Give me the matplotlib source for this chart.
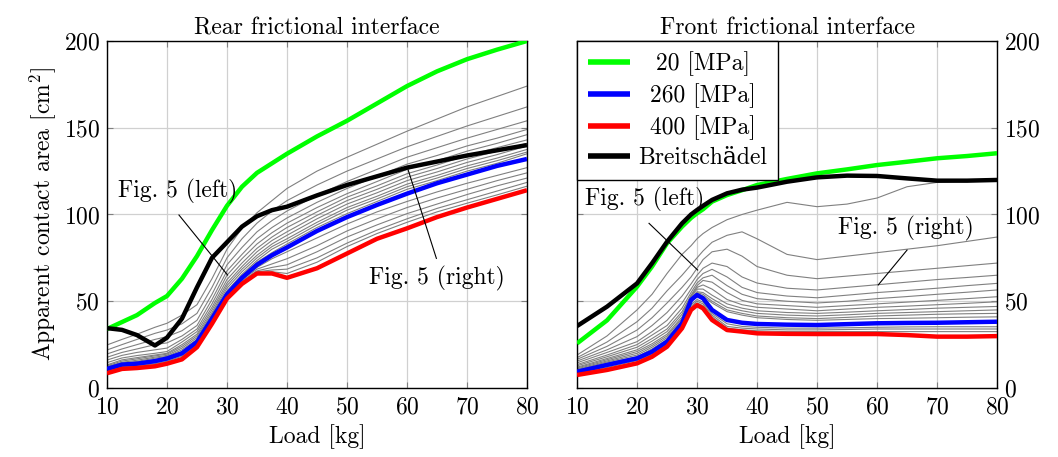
import matplotlib
matplotlib.use("Agg")
import matplotlib.pyplot as plt

plt.rcParams['font.family'] = ['cmr10', 'DejaVu Serif']
plt.rcParams['mathtext.fontset'] = 'cm'
plt.rcParams['axes.unicode_minus'] = False
plt.rcParams['axes.formatter.use_mathtext'] = True

# ---------------- Rear frictional interface ----------------
X_REAR = [10, 12.5, 15, 18, 20, 22.5, 25, 27.5, 30, 32.5, 35, 37.5, 40, 45, 50, 55, 60, 65, 70, 75, 80]
rear_green = [34, 38, 42, 49, 53, 63, 76, 91, 105, 116, 124, 129.5, 135, 145, 154, 164, 174, 182.5, 189.5, 195, 200]
rear_black = [34.5, 33.5, 30.5, 24.5, 29, 40, 58, 75, 84, 93, 99, 102.5, 104.5, 111, 117, 122, 127, 130.5, 134, 137, 140]
rear_blue = [11, 13.5, 14, 15.5, 17, 20, 26.5, 40, 54, 63.5, 71, 76.5, 81, 90.5, 98.5, 105.5, 112, 118, 123, 128, 132]
rear_red = [8.5, 11, 11.5, 12.5, 14, 16.5, 23.5, 37, 51.5, 60, 66, 66, 63.5, 69, 77.5, 86, 92, 98.5, 104, 109, 114]
rear_gray = [
    [24.8, 28, 31, 35, 37.3, 42, 48, 63, 80, 92, 101, 108, 115, 125, 133, 140.5, 148, 155, 162, 168, 174],
    [21.9, 25, 28, 31.5, 33.4, 37, 43, 58, 75, 86, 95, 102, 108, 117, 125, 132, 139, 145, 151, 156.5, 162],
    [19.6, 22.5, 25, 28, 29.6, 33, 39, 54, 71, 81, 90, 96.5, 102, 111, 119, 126, 133, 138.5, 144, 149, 154],
    [17.7, 20.5, 22.5, 25, 26, 30, 36, 51, 67.5, 77, 86, 92.5, 98, 107, 115, 122, 129, 134, 139.5, 144, 149],
    [16.1, 18.8, 20.5, 22, 23, 28, 34, 48.5, 65, 74.5, 83, 89.5, 95, 104, 112, 119, 126, 131, 136.5, 141, 146],
    [14.6, 17.3, 18.7, 20, 21, 26.5, 32.5, 46.5, 62.5, 72, 80.5, 87, 92.5, 101.5, 110, 116.5, 123.5, 128.5, 134, 138.5, 143],
    [13.3, 16.2, 17.5, 19, 20, 25, 31, 45, 60.5, 70, 78.5, 85, 90, 99.5, 108, 114.5, 121.5, 126.5, 132, 136.5, 141],
    [12.8, 15.5, 16.8, 18.5, 19.5, 24, 30, 43.5, 59, 68.5, 76.5, 83, 88, 97.5, 106, 112.5, 119.5, 124.5, 130, 134.5, 139.5],
    [12.3, 14.8, 16, 17.8, 18.8, 23, 29, 42.5, 57.5, 67, 75, 81.5, 86, 95.5, 104, 110.5, 117.5, 122.5, 128, 132.5, 137.5],
    [11.8, 14.2, 15.3, 17.2, 18.2, 22, 28, 41.5, 56, 65.5, 73.5, 80, 84.5, 94, 102.5, 109, 116, 121, 126.5, 131, 136],
    [11.4, 13.8, 14.8, 16.5, 17.6, 21, 27.3, 40.8, 55, 64.5, 72.5, 78, 83, 92.5, 100.5, 107.5, 114.5, 119.5, 125, 129.5, 135],
    [10.5, 13, 13.5, 15, 16.5, 19.5, 26, 39.5, 53.6, 63, 69.5, 74.5, 78.5, 86.5, 94.5, 101.5, 107.5, 113, 118, 122.5, 127],
    [10.1, 12.6, 13.1, 14.5, 16, 19, 25.5, 39, 53.2, 62.5, 68.5, 71.5, 74.5, 82, 90.5, 97.5, 104, 109.5, 114.5, 119.5, 124],
    [9.7, 12.2, 12.7, 14, 15.4, 18.3, 25, 38.5, 52.8, 61.8, 67.5, 69.5, 71, 78.5, 87, 94, 100.5, 106, 111.5, 116.5, 121],
    [9.3, 11.8, 12.3, 13.5, 14.9, 17.6, 24.5, 38, 52.4, 61.2, 67, 68, 68.5, 75, 83.5, 91, 97.5, 103.5, 108.5, 113.5, 118.5],
    [8.9, 11.4, 12, 13, 14.4, 17, 24, 37.5, 52, 60.6, 66.5, 67, 66, 72.5, 81.5, 89, 95.5, 101.5, 106.5, 111.3, 116.3],
]

# ---------------- Front frictional interface ----------------
X_FRONT = [10, 15, 20, 22.5, 25, 27.5, 29, 30, 31, 32.5, 35, 37.5, 40, 45, 50, 55, 60, 65, 70, 75, 80]
front_green = [25.7, 39, 58.4, 70, 83.4, 93, 98, 100.7, 103, 107.4, 111.2, 114, 117, 120.5, 123.7, 126, 128.5, 130.4, 132.4, 133.7, 135.3]
front_black = [35.7, 46.9, 60.3, 71.9, 84.3, 94.9, 100, 102.6, 105, 108.4, 112.2, 114.3, 115.5, 118.9, 121.4, 122.4, 122.2, 120.8, 119.5, 119.5, 119.9]
front_blue = [9.4, 13.3, 17.1, 20.9, 26.7, 37.3, 50.7, 53.6, 51.7, 45, 39.2, 37.6, 36.9, 36.5, 36.3, 36.8, 37.3, 37.5, 37.6, 37.9, 38.2]
front_red = [7.5, 10.4, 14.2, 18, 23.8, 34.4, 45, 47.8, 45.9, 39.2, 33.4, 32.5, 31.5, 31.2, 31.1, 31.1, 31.1, 30.5, 29.6, 29.6, 29.9]
front_gray = [
    [19, 30, 45, 54, 66, 77, 82, 86, 89, 92.5, 97, 100, 102.5, 107, 104.5, 106, 109.5, 116, 118.5, 119.3, 119.6],
    [17.5, 26.5, 38.2, 46, 56, 65, 71, 75, 79, 84, 88, 90, 86, 77, 74, 76, 78, 80, 82, 84.5, 87],
    [16.5, 24, 33.4, 40.5, 49, 58, 64, 69, 74, 78.5, 80, 76, 70, 65, 63, 64.5, 66, 67.5, 69, 70.5, 72],
    [15.5, 22, 29.6, 36, 43.5, 53, 60, 65, 69, 72, 70, 64, 60.5, 57.5, 56.5, 58, 59.5, 61, 62.5, 63.7, 65],
    [14.5, 20.5, 26.7, 32.5, 39, 49, 57, 62.5, 66, 68.4, 64, 58, 55, 53, 52, 53.5, 55, 56.2, 57.5, 59, 60.3],
    [13.5, 19, 25, 30.5, 36, 46, 55, 60.5, 63.5, 65, 59, 54, 51.5, 50, 49, 50, 51.5, 52.7, 54, 55.2, 56.5],
    [12.8, 18, 23.5, 28.5, 34, 44, 53.5, 59, 62, 61, 55, 50.5, 48.5, 47.5, 46.5, 47.5, 48.5, 49.5, 50.5, 51.5, 52.6],
    [12, 17, 22, 27, 32.5, 42.5, 53, 58, 59.4, 57, 51, 48, 46.5, 45.5, 44.5, 45.5, 46.5, 47.2, 48, 48.8, 49.7],
    [11.5, 16.3, 21, 25.5, 31, 41, 52.5, 57, 57, 53.5, 48.5, 46, 44.5, 43.5, 43, 43.7, 44.5, 45.2, 46, 46.5, 47],
    [11, 15.6, 20, 24.5, 30, 40, 52, 55.5, 55, 51.5, 46.5, 44.5, 43, 42, 41.5, 42.2, 43, 43.5, 44, 44.5, 45],
    [10.5, 15, 19, 23.5, 29, 39, 51.5, 55, 54, 50, 45, 43, 41.5, 40.5, 40, 40.7, 41.5, 42, 42.5, 42.8, 43],
    [10, 14.4, 18, 22.5, 28, 38.3, 51, 54.5, 53, 49, 44, 42, 40.5, 39.5, 39, 39.5, 40, 40.2, 40.5, 40.8, 41],
    [9, 12.5, 16.5, 20, 26, 36.5, 48, 51, 49.5, 43, 37, 35.5, 35, 34.5, 34.5, 34.7, 35, 35.2, 35.3, 35.3, 35.3],
    [8.5, 11.8, 15.8, 19.3, 25, 35.5, 47, 50, 48.5, 42, 35.5, 34.5, 34, 33.5, 33.5, 33.7, 34, 34, 34, 34, 34],
    [8, 11, 15, 18.6, 24.5, 35, 46, 49, 47.5, 41, 34.5, 33.5, 33, 32.5, 32.5, 32.5, 32.5, 32.5, 32.5, 32.5, 32.5],
]

LEGEND_LABELS = ['20 [MPa]', '260 [MPa]', '400 [MPa]', 'Breitschädel']
X_TICKS = [10, 20, 30, 40, 50, 60, 70, 80]
Y_TICKS = [0, 50, 100, 150, 200]

FS = 17
DPI = 100
fig = plt.figure(figsize=(10.58, 4.57), dpi=DPI)
axL = fig.add_axes([0.1011, 0.1510, 0.397, 0.7593])
axR = fig.add_axes([0.5454, 0.1510, 0.397, 0.7593])


def draw(ax, X, gray, green, blue, red, black):
    for g in gray:
        ax.plot(X, g, color='#808080', lw=0.8, zorder=2)
    lg, = ax.plot(X, green, color='#00ff00', lw=3.2, zorder=3, solid_capstyle='butt')
    lb, = ax.plot(X, blue, color='#0000ff', lw=3.2, zorder=3, solid_capstyle='butt')
    lr, = ax.plot(X, red, color='#ff0000', lw=3.2, zorder=3, solid_capstyle='butt')
    lk, = ax.plot(X, black, color='black', lw=3.2, zorder=4, solid_capstyle='butt')
    ax.set_xlim(10, 80)
    ax.set_ylim(0, 200)
    ax.set_xticks(X_TICKS)
    ax.set_yticks(Y_TICKS)
    ax.grid(True, color='#d0d0d0', lw=0.9, zorder=0)
    ax.set_axisbelow(True)
    ax.tick_params(direction='in', top=True, right=True, length=4, width=0.8,
                   labelsize=FS, color='#808080', pad=5)
    ax.tick_params(axis='x', pad=6)
    for s in ax.spines.values():
        s.set_linewidth(1.0)
    ax.set_xlabel('Load [kg]', fontsize=FS, labelpad=4)
    return [lg, lb, lr, lk]


handles = draw(axL, X_REAR, rear_gray, rear_green, rear_blue, rear_red, rear_black)
draw(axR, X_FRONT, front_gray, front_green, front_blue, front_red, front_black)

axL.set_title('Rear frictional interface', fontsize=FS, pad=5)
axR.set_title('Front frictional interface', fontsize=FS, pad=5)
axL.set_ylabel('Apparent contact area [cm$^2$]', fontsize=FS, labelpad=4)
axR.tick_params(labelleft=False, labelright=True)

# annotations rear
axL.text(21.7, 113, 'Fig. 5 (left)', fontsize=FS, ha='center', va='center', zorder=6)
axL.plot([22, 30.1], [99.7, 65.1], color='black', lw=0.8, zorder=5)
axL.text(65, 63, 'Fig. 5 (right)', fontsize=FS, ha='center', va='center', zorder=6)
axL.plot([64.9, 60.2], [74.7, 125.6], color='black', lw=0.8, zorder=5)

# annotations front
axR.text(21.3, 108.4, 'Fig. 5 (left)', fontsize=FS, ha='center', va='center', zorder=6)
axR.plot([22, 30.1], [94.9, 68], color='black', lw=0.8, zorder=5)
axR.text(64.8, 92.2, 'Fig. 5 (right)', fontsize=FS, ha='center', va='center', zorder=6)
axR.plot([65, 60.2], [79.5, 59.4], color='black', lw=0.8, zorder=5)

leg = axR.legend(handles, LEGEND_LABELS, loc='upper left', borderaxespad=0,
                 fontsize=FS, frameon=True, fancybox=False, handlelength=1.8,
                 labelspacing=0.3, borderpad=0.45, handletextpad=0.35)
leg.get_frame().set_edgecolor('black')
leg.get_frame().set_linewidth(1.0)
leg.get_frame().set_alpha(1)
leg.set_zorder(10)
for ln in leg.get_lines():
    ln.set_linewidth(4)

# centre the legend labels within their column (as in the original)
fig.canvas.draw()
renderer = fig.canvas.get_renderer()
texts = leg.get_texts()
widths = [t.get_window_extent(renderer).width for t in texts]
wmax = max(widths)
for t, w in zip(texts, widths):
    t.set_position(((wmax - w) / 2.0, 0))

fig.savefig('out.png', dpi=DPI)
